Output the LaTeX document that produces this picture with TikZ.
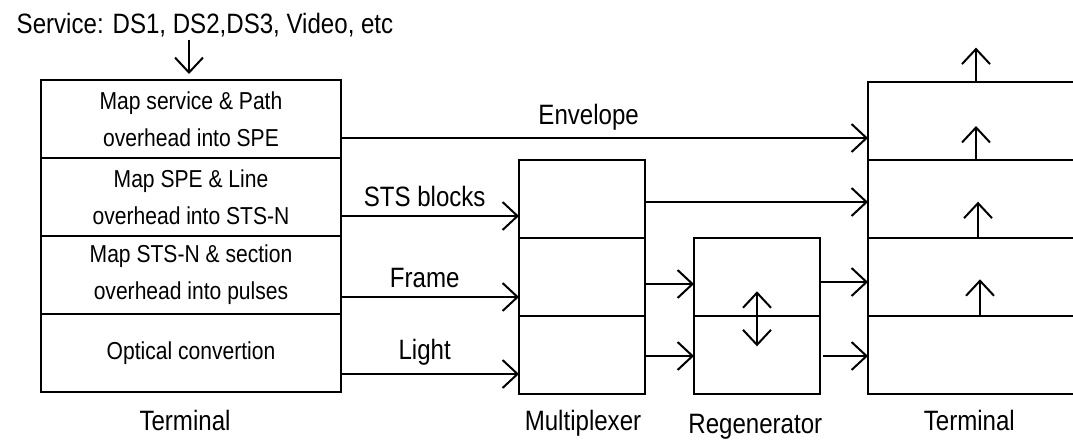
\documentclass[tikz,border=0pt]{standalone}
\usepackage{fontspec}
\setmainfont[FakeStretch=0.86]{Liberation Sans}
\usetikzlibrary{arrows.meta,positioning}

\begin{document}
\begin{tikzpicture}[
  x=1pt, y=-1pt,
  font=\fontsize{28}{34}\selectfont,
  line width=2pt,
  >={Straight Barb[length=15pt,width=28pt]},
  row/.style={
    draw,
    rectangle,
    inner sep=0pt,
    outer sep=0pt,
    minimum width=126pt,
    minimum height=78pt,
    align=center,
    font=\fontsize{24.5}{37}\selectfont
  },
  lrow/.style={row, minimum width=300pt},
  trow/.style={row, minimum width=230pt},
  lbl/.style={inner sep=0pt, anchor=base},
  arr/.style={->}
]

\useasboundingbox (0,0) rectangle (1073,440);
\clip (0,0) rectangle (1073,440);

% Sending terminal
\node[lrow] (l1) at (191,119) {Map service \& Path\\overhead into SPE};
\node[lrow, below=0pt of l1] (l2) {Map SPE \& Line\\overhead into STS-N};
\node[lrow, below=0pt of l2] (l3) {Map STS-N \& section\\overhead into pulses};
\node[lrow, below=0pt of l3] (l4) {Optical convertion};

\node[lbl] (svc) at (205,33) {Service: DS1, DS2,DS3, Video, etc};
\draw[arr, shorten <=2pt] ([xshift=-2pt]l1.north |- svc.south)
  -- ([xshift=-2pt, yshift=6pt]l1.north);

% Multiplexer and regenerator
\node[row] (m1) at (582,199) {};
\node[row, below=0pt of m1] (m2) {};
\node[row, below=0pt of m2] (m3) {};

\node[row] (g1) at (757,277) {};
\node[row, below=0pt of g1] (g2) {};

% Receiving terminal
\node[trow] (t1) at (983,121) {};
\node[trow, below=0pt of t1] (t2) {};
\node[trow, below=0pt of t2] (t3) {};
\node[trow, below=0pt of t3] (t4) {};

% Layer connections
\coordinate (env) at ([yshift=-19pt]l1.east);
\coordinate (sts) at ([yshift=-19pt]l2.east);
\coordinate (frm) at ([yshift=-22pt]l3.east);
\coordinate (lgt) at ([yshift=-21pt]l4.east);

\draw[arr] (env) -- (env -| t1.west)
  node[lbl, pos=.47, yshift=13.3pt] {Envelope};
\draw[arr] (sts) -- (sts -| m1.west)
  node[lbl, pos=.47, yshift=10pt] {STS blocks};
\draw[arr] (frm) -- (frm -| m2.west)
  node[lbl, pos=.47, yshift=9.3pt] {Frame};
\draw[arr] (lgt) -- (lgt -| m3.west)
  node[lbl, pos=.47, yshift=14.3pt] {Light};

\coordinate (mo1) at ([yshift=-3pt]m1.east);
\coordinate (mo2) at ([yshift=-7pt]m2.east);
\coordinate (mo3) at ([yshift=-1pt]m3.east);
\coordinate (go1) at ([yshift=-5pt]g1.east);
\coordinate (go2) at ([yshift=-1pt]g2.east);

\draw[arr] (mo1) -- (mo1 -| t2.west);
\draw[arr] (mo2) -- (mo2 -| g1.west);
\draw[arr] (mo3) -- (mo3 -| g2.west);
\draw[arr] (go1) -- (go1 -| t3.west);
\draw[arr, shorten <=3.3pt] (go2) -- (go2 -| t4.west);

\draw[<->] ([yshift=24.7pt]g2.north) -- ([yshift=-30.3pt]g2.north);

\foreach \r/\dx/\len in {t1/108/34.4, t2/108/34, t3/110/36.3, t4/112/36.7}
  \draw[arr] ([xshift=\dx pt]\r.north west)
    -- ([xshift=\dx pt, yshift=\len pt]\r.north west);

% Labels
\node[lbl] (lt) at ([xshift=-6pt, yshift=-38.5pt]l4.south) {Terminal};
\node[lbl] (lm) at ([xshift=1pt, yshift=-36.5pt]m3.south) {Multiplexer};
\node[lbl] (lg) at ([xshift=-1.7pt, yshift=-39pt]g2.south) {Regenerator};
\node[lbl] (lr) at ([xshift=101.3pt, yshift=-36pt]t4.south west) {Terminal};

\end{tikzpicture}
\end{document}
